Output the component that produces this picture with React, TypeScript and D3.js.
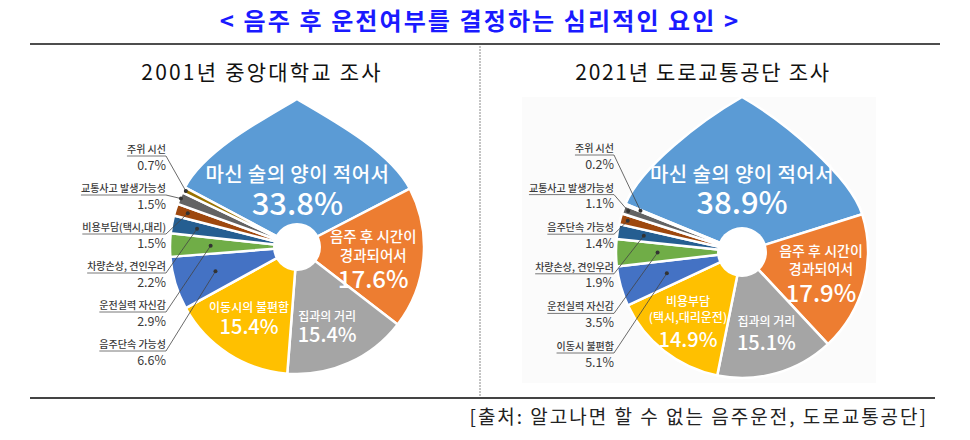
import React, { useEffect, useRef } from 'react';
import * as d3 from 'd3';

const W = 970;
const H = 440;

const titleText = '< 음주 후 운전여부를 결정하는 심리적인 요인 >';
const sourceText = '[출처: 알고나면 할 수 없는 음주운전, 도로교통공단]';
const leftTitle = '2001년 중앙대학교 조사';
const rightTitle = '2021년 도로교통공단 조사';

const leftCategories = [
  '마신 술의 양이 적어서', '음주 후 시간이 경과되어서', '집과의 거리', '이동시의 불편함',
  '음주단속 가능성', '운전실력 자신감', '차량손상, 견인우려', '비용부담(택시,대리)',
  '교통사고 발생가능성', '주위 시선',
];
const leftValues = [33.8, 17.6, 15.4, 15.4, 6.6, 2.9, 2.2, 1.5, 1.5, 0.7];

const rightCategories = [
  '마신 술의 양이 적어서', '음주 후 시간이 경과되어서', '집과의 거리', '비용부담 (택시,대리운전)',
  '이동시 불편함', '운전실력 자신감', '차량손상, 견인우려', '음주단속 가능성',
  '교통사고 발생가능성', '주위 시선',
];
const rightValues = [38.9, 17.9, 15.1, 14.9, 5.1, 3.5, 1.9, 1.4, 1.1, 0.2];

const leftInnerLines = [['마신 술의 양이 적어서'], ['음주 후 시간이', '경과되어서'], ['집과의 거리'], ['이동시의 불편함']];
const rightInnerLines = [['마신 술의 양이 적어서'], ['음주 후 시간이', '경과되어서'], ['집과의 거리'], ['비용부담', '(택시,대리운전)']];

const sliceColors = ['#5B9BD5', '#ED7D31', '#A5A5A5', '#FFC000', '#4472C4', '#70AD47', '#255E91', '#9E480E', '#636363', '#997300'];

const FONT = '"Noto Sans CJK KR", "Noto Sans", sans-serif';

type InnerCfg = { r: number; da: number; dys: number[]; sizes: number[]; ls: number[] };
type PieCfg = {
  categories: string[]; values: number[]; innerLines: string[][];
  cx: number; cy: number; r: number; tipR: number; startDeg: number; hole: number;
  labelRight: number; rowTop: number; rowStep: number; dotFrac: number[]; inner: InnerCfg[];
};

const pies: PieCfg[] = [
  {
    categories: leftCategories, values: leftValues, innerLines: leftInnerLines,
    cx: 297, cy: 247, r: 127, tipR: 148, startDeg: -62, hole: 24,
    labelRight: 166, rowTop: 156, rowStep: 39,
    dotFrac: [0, 0, 0, 0, 0.67, 0.68, 0.8, 0.9, 0.99, 0.98],
    inner: [
      { r: 57, da: 0, dys: [-8, 25], sizes: [20, 31], ls: [0.4, 0] },
      { r: 77, da: 3, dys: [-16, 3, 30], sizes: [14.5, 14.5, 24], ls: [0, 0, 0] },
      { r: 88, da: 4, dys: [-9, 12], sizes: [12, 20], ls: [0, 0] },
      { r: 88.5, da: 0, dys: [-9, 13], sizes: [12, 20], ls: [0, 0] },
    ],
  },
  {
    categories: rightCategories, values: rightValues, innerLines: rightInnerLines,
    cx: 742, cy: 252, r: 126, tipR: 155, startDeg: -67.5, hole: 25,
    labelRight: 614, rowTop: 155, rowStep: 39.6,
    dotFrac: [0, 0, 0, 0, 0.62, 0.67, 0.79, 0.94, 0.96, 0.87],
    inner: [
      { r: 62, da: -2.5, dys: [-8, 24], sizes: [20, 31], ls: [0.4, 0] },
      { r: 81.5, da: -0.5, dys: [-16, 2, 30], sizes: [14, 14, 24], ls: [0, 0, 0] },
      { r: 85.6, da: -0.7, dys: [-8, 16], sizes: [12, 20], ls: [0, 0] },
      { r: 88.4, da: -0.5, dys: [-16, 0, 25], sizes: [12, 12, 20], ls: [0, 0, 0] },
    ],
  },
];

function dropPath(cx: number, cy: number, r: number, tipR: number, a0: number, a1: number) {
  const pt = (a: number, rr: number) => [cx + rr * Math.sin(a), cy - rr * Math.cos(a)];
  const P1 = pt(a0, r);
  const P2 = pt(a1, r);
  const T = [cx, cy - tipR];
  const k = 40, h = 48, s = Math.PI / 6;
  const p = d3.path();
  p.moveTo(cx, cy);
  p.lineTo(P1[0], P1[1]);
  p.bezierCurveTo(P1[0] + k * Math.cos(a0), P1[1] + k * Math.sin(a0), T[0] - h * Math.cos(s), T[1] + h * Math.sin(s), T[0], T[1]);
  p.bezierCurveTo(T[0] + h * Math.cos(s), T[1] + h * Math.sin(s), P2[0] - k * Math.cos(a1), P2[1] - k * Math.sin(a1), P2[0], P2[1]);
  p.closePath();
  return p.toString();
}

export default function App() {
  const ref = useRef<SVGSVGElement>(null);

  useEffect(() => {
    const svg = d3.select(ref.current);
    svg.selectAll('*').remove();

    svg.append('rect').attr('width', W).attr('height', H).attr('fill', '#ffffff');
    // faint panel behind right pie
    svg.append('rect').attr('x', 522).attr('y', 97).attr('width', 354).attr('height', 286).attr('fill', '#fbfbfb');

    svg.append('text').attr('x', 480).attr('y', 30).attr('text-anchor', 'middle')
      .attr('font-family', FONT).attr('font-weight', 700).attr('font-size', 24)
      .attr('letter-spacing', 2.1).attr('fill', '#1a1aff').text(titleText);

    svg.append('line').attr('x1', 30).attr('x2', 940).attr('y1', 44).attr('y2', 44)
      .attr('stroke', '#4d4d4d').attr('stroke-width', 2);
    svg.append('line').attr('x1', 30).attr('x2', 935).attr('y1', 398).attr('y2', 398)
      .attr('stroke', '#444').attr('stroke-width', 2);
    svg.append('line').attr('x1', 480).attr('x2', 480).attr('y1', 46).attr('y2', 397)
      .attr('stroke', '#8a8a8a').attr('stroke-width', 1).attr('stroke-dasharray', '2 1');

    svg.append('text').attr('x', 262).attr('y', 80).attr('text-anchor', 'middle')
      .attr('font-family', FONT).attr('font-size', 21).attr('letter-spacing', 2.2)
      .attr('fill', '#111').text(leftTitle);
    svg.append('text').attr('x', 703).attr('y', 80).attr('text-anchor', 'middle')
      .attr('font-family', FONT).attr('font-size', 21).attr('letter-spacing', 1.7)
      .attr('fill', '#111').text(rightTitle);

    svg.append('text').attr('x', 928).attr('y', 424).attr('text-anchor', 'end')
      .attr('font-family', FONT).attr('font-size', 19).attr('letter-spacing', 2)
      .attr('fill', '#222').text(sourceText);

    pies.forEach((cfg) => {
      const start = (cfg.startDeg * Math.PI) / 180;
      const pie = d3.pie<number>().sort(null).value((d) => d)
        .startAngle(start).endAngle(start + 2 * Math.PI);
      const arcs = pie(cfg.values);
      const arcGen = d3.arc<d3.PieArcDatum<number>>().innerRadius(0).outerRadius(cfg.r);
      const g = svg.append('g').attr('transform', `translate(${cfg.cx},${cfg.cy})`);

      arcs.forEach((a, i) => {
        if (i === 0) {
          svg.insert('path', () => g.node() as any)
            .attr('d', dropPath(cfg.cx, cfg.cy, cfg.r, cfg.tipR, a.startAngle, a.endAngle))
            .attr('fill', sliceColors[i]).attr('stroke', '#fff').attr('stroke-width', 2.5)
            .attr('stroke-linejoin', 'round');
        } else {
          g.append('path').attr('d', arcGen(a) as string).attr('fill', sliceColors[i])
            .attr('stroke', '#fff').attr('stroke-width', 2.5).attr('stroke-linejoin', 'round');
        }
      });
      g.append('circle').attr('r', cfg.hole).attr('fill', '#fff');

      // inner labels for the four large slices
      cfg.inner.forEach((ic, i) => {
        const a = arcs[i];
        const mid = (a.startAngle + a.endAngle) / 2 + (ic.da * Math.PI) / 180;
        const ax = cfg.cx + ic.r * Math.sin(mid);
        const ay = cfg.cy - ic.r * Math.cos(mid);
        const lines = [...cfg.innerLines[i], `${cfg.values[i].toFixed(1)}%`];
        lines.forEach((t, li) => {
          svg.append('text').attr('x', ax).attr('y', ay + ic.dys[li]).attr('text-anchor', 'middle')
            .attr('font-family', FONT).attr('font-size', ic.sizes[li])
            .attr('letter-spacing', ic.ls[li])
            .attr('font-weight', 500)
            .attr('fill', '#ffffff').text(t);
        });
      });

      // outer labels for the six small slices (top row = last slice)
      for (let j = 0; j < 6; j++) {
        const i = cfg.values.length - 1 - j;
        const a = arcs[i];
        const mid = (a.startAngle + a.endAngle) / 2;
        const rr = cfg.r * cfg.dotFrac[i];
        const dx = cfg.cx + rr * Math.sin(mid);
        const dy = cfg.cy - rr * Math.cos(mid);
        const uy = cfg.rowTop + j * cfg.rowStep;
        const nameT = svg.append('text').attr('x', cfg.labelRight).attr('y', uy - 3)
          .attr('text-anchor', 'end').attr('font-family', FONT).attr('font-size', 10)
          .attr('font-weight', 500).attr('fill', '#3a3a3a').text(cfg.categories[i]);
        const w = (nameT.node() as SVGTextElement).getComputedTextLength();
        svg.append('line').attr('x1', cfg.labelRight - w).attr('x2', cfg.labelRight)
          .attr('y1', uy).attr('y2', uy).attr('stroke', '#555').attr('stroke-width', 0.8);
        svg.append('text').attr('x', cfg.labelRight).attr('y', uy + 13.5)
          .attr('text-anchor', 'end').attr('font-family', FONT).attr('font-size', 12.5)
          .attr('fill', '#3a3a3a').text(`${cfg.values[i].toFixed(1)}%`);
        svg.append('line').attr('x1', cfg.labelRight).attr('y1', uy).attr('x2', dx).attr('y2', dy)
          .attr('stroke', '#444').attr('stroke-width', 0.8);
        svg.append('circle').attr('cx', dx).attr('cy', dy).attr('r', 2).attr('fill', '#333');
      }
    });
  }, []);

  return (
    <svg ref={ref} width={W} height={H}
      style={{ position: 'absolute', left: 0, top: 0, display: 'block' }} />
  );
}
